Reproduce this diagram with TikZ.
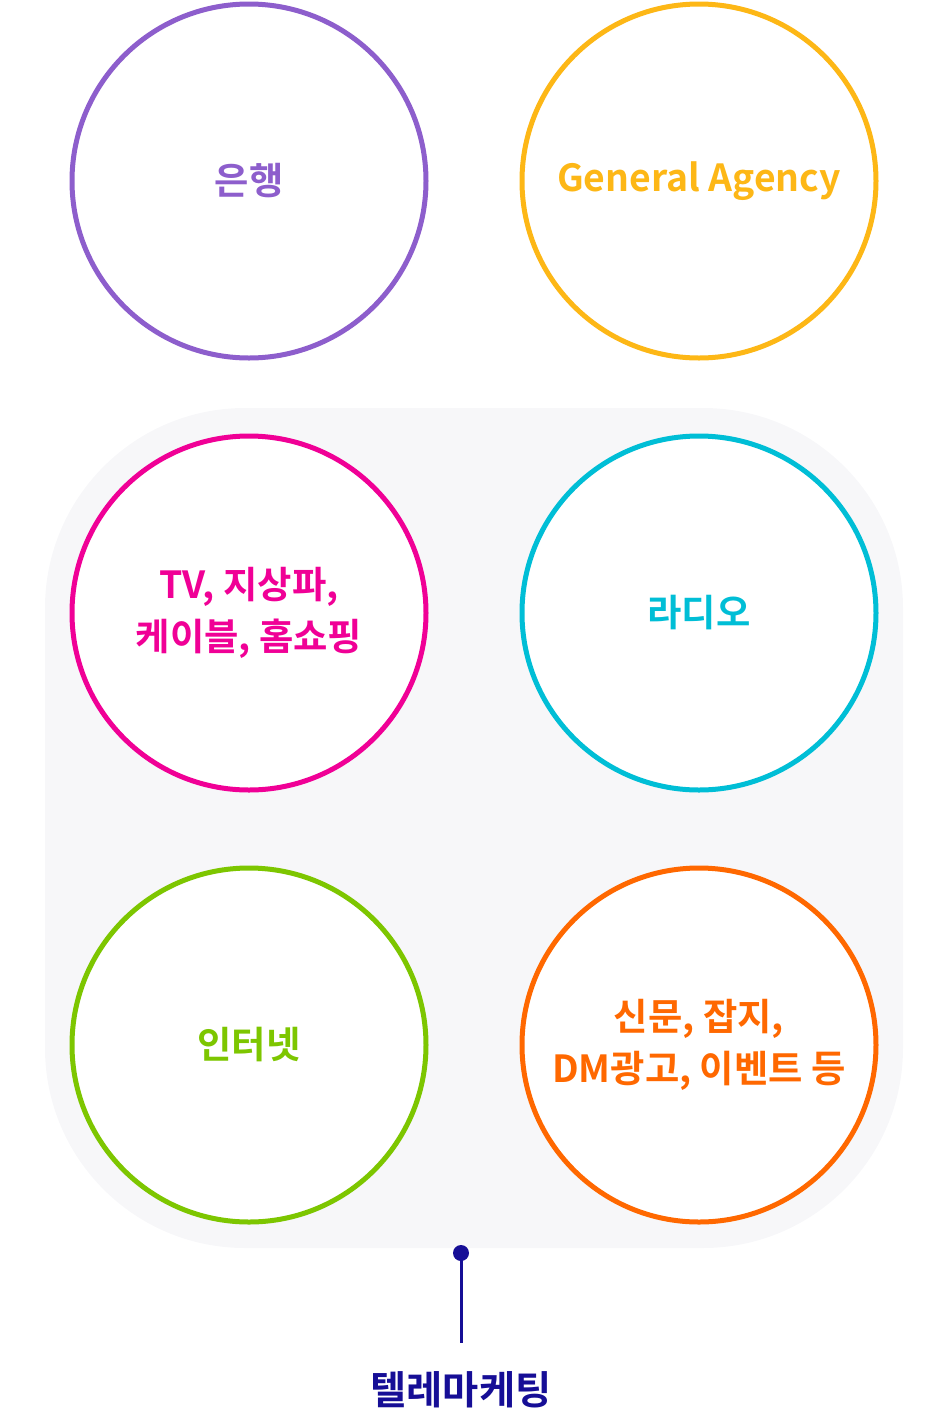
\documentclass[tikz,border=0pt]{standalone}
\usepackage{fontspec}
\setmainfont{Noto Sans CJK KR}[BoldFont={Noto Sans CJK KR Bold}]
\usepackage{tikz}
\tikzset{every picture/.style={line width=0.75pt}}
\definecolor{bankpurple}{RGB}{141,94,204}
\definecolor{gayellow}{RGB}{253,183,22}
\definecolor{tvpink}{RGB}{240,0,150}
\definecolor{radiocyan}{RGB}{0,190,214}
\definecolor{netgreen}{RGB}{125,198,0}
\definecolor{printorange}{RGB}{255,104,0}
\definecolor{telenavy}{RGB}{22,14,150}
\definecolor{panelgrey}{RGB}{247,247,249}

\begin{document}
\begin{tikzpicture}[x=0.75pt,y=0.75pt,yscale=-1,xscale=1,
	channel/.style={circle,draw,fill=white,line width=3.75pt,minimum size=354*0.75pt,inner sep=0pt,align=center,font=\fontsize{28}{38.5}\selectfont\bfseries}]
	\useasboundingbox (0,0) rectangle (948,1422);
	
	%Rounded Rect [id:telemarketing panel]
	\fill [panelgrey, rounded corners=150pt] (45,408) rectangle (903,1248);
	
	%Shape: Circle [id:bank]
	\node [channel, draw=bankpurple, text=bankpurple] (bank) at (249,181) {은행};
	%Shape: Circle [id:agency]
	\node [channel, draw=gayellow, text=gayellow] (agency) at (699,181) {General Agency};
	%Shape: Circle [id:tv]
	\node [channel, draw=tvpink, text=tvpink] (tv) at (249,613) {TV, 지상파,\\케이블, 홈쇼핑};
	%Shape: Circle [id:radio]
	\node [channel, draw=radiocyan, text=radiocyan] (radio) at (699,613) {라디오};
	%Shape: Circle [id:internet]
	\node [channel, draw=netgreen, text=netgreen] (internet) at (249,1045) {인터넷};
	%Shape: Circle [id:print]
	\node [channel, draw=printorange, text=printorange] (print) at (699,1045) {신문, 잡지,\\DM광고, 이벤트 등};
	
	%Straight Lines [id:callout]
	\coordinate (pin) at (461,1253);
	\coordinate (pinfoot) at (461,1343);
	\node [text=telenavy, font=\fontsize{29.5}{32}\selectfont\bfseries, inner sep=0.75pt] (tele) at (461,1390) {텔레마케팅};
	\draw [telenavy, line width=2.25pt] (pin) -- (pinfoot);
	\fill [telenavy] (pin) circle (8);
\end{tikzpicture}
\end{document}
